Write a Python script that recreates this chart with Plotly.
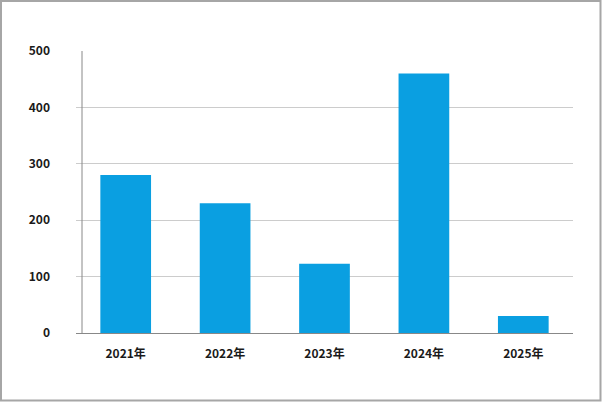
import plotly.graph_objects as go

# Dados
anos = ["2021年", "2022年", "2023年", "2024年", "2025年"]
valores = [280, 230, 123, 460, 30]
ticks_y = [0, 100, 200, 300, 400, 500]

COR_BARRA = "#0A9FE1"
COR_GRADE = "#CCCCCC"
COR_EIXO = "#888888"
COR_TEXTO = "#1A1A1A"

# Área do gráfico em pixels (602x402)
L, R, T, B = 76, 29, 51, 69
W, H = 602 - L - R, 402 - T - B
EIXO_Y_PX = 82  # linha vertical do eixo y fica um pouco para dentro

fig = go.Figure(go.Bar(
    x=anos,
    y=valores,
    marker=dict(color=COR_BARRA, line=dict(width=0)),
    hoverinfo="x+y",
))

fig.update_layout(
    width=602,
    height=402,
    margin=dict(l=L, r=R, t=T, b=B, autoexpand=False),
    paper_bgcolor="white",
    plot_bgcolor="white",
    bargap=0.49,
    showlegend=False,
    font=dict(family="Noto Sans CJK JP, Noto Sans, sans-serif", size=12,
              color=COR_TEXTO, weight="bold"),
)

fig.update_xaxes(
    showgrid=False,
    showline=False,
    ticks="",
    ticklabelstandoff=12,
)
fig.update_yaxes(
    range=[0, 500],
    tickvals=ticks_y,
    showgrid=True,
    gridcolor=COR_GRADE,
    gridwidth=1,
    zeroline=True,
    zerolinecolor=COR_EIXO,
    zerolinewidth=1,
    showline=False,
    ticks="",
    ticklabelstandoff=25,
)

# Linha do eixo y
fig.add_shape(
    type="line",
    xref="paper", yref="paper",
    x0=(EIXO_Y_PX - L) / W, x1=(EIXO_Y_PX - L) / W,
    y0=0, y1=1,
    line=dict(color=COR_EIXO, width=1),
    layer="above",
)

# Moldura cinza em volta da figura inteira
fig.add_shape(
    type="rect",
    xref="paper", yref="paper",
    x0=(1 - L) / W, x1=(600.5 - L) / W,
    y0=(402 - B - 400.5) / H, y1=(402 - B - 1) / H,
    line=dict(color="#A6A6A6", width=2),
    fillcolor="rgba(0,0,0,0)",
    layer="below",
)

# Sem margem no body para o gráfico ocupar a janela a partir de (0,0)
fig.write_html(
    "out.html",
    config={"displayModeBar": False},
    post_script="document.body.style.margin='0';",
)
